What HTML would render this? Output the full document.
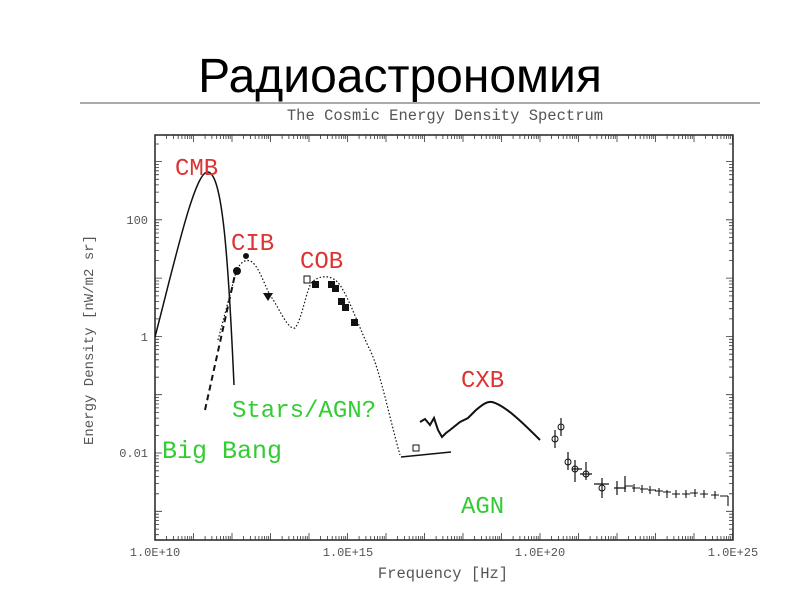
<!DOCTYPE html>
<html><head><meta charset="utf-8"><style>
body{margin:0;background:#fff;width:800px;height:600px;overflow:hidden}
</style></head><body>
<svg width="800" height="600" xmlns="http://www.w3.org/2000/svg">
<defs>
<clipPath id="box"><rect x="150" y="135" width="590" height="405"/></clipPath>
<path id="xm" d="M11.6,0v-4M18.4,0v-4M23.2,0v-4M26.9,0v-4M30,0v-4M32.5,0v-4M34.8,0v-4M36.7,0v-4M38.5,0v-7" stroke="#333" stroke-width="0.8"/>
<path id="xt" d="M11.6,0v4M18.4,0v4M23.2,0v4M26.9,0v4M30,0v4M32.5,0v4M34.8,0v4M36.7,0v4M38.5,0v7" stroke="#333" stroke-width="0.8"/>
<path id="ym" d="M0,-17.5h4M0,-27.7h4M0,-34.9h4M0,-40.5h4M0,-45.1h4M0,-49h4M0,-52.4h4M0,-55.4h4M0,-58.3h7" stroke="#333" stroke-width="0.8"/>
<path id="yr" d="M0,-17.5h-4M0,-27.7h-4M0,-34.9h-4M0,-40.5h-4M0,-45.1h-4M0,-49h-4M0,-52.4h-4M0,-55.4h-4M0,-58.3h-7" stroke="#333" stroke-width="0.8"/>
</defs>
<text x="400" y="92" text-anchor="middle" font-family="Liberation Sans, sans-serif" font-size="48" fill="#000">Радиоастрономия</text>
<line x1="80" y1="103" x2="760" y2="103" stroke="#aaa" stroke-width="2"/>
<text x="445" y="120" text-anchor="middle" font-family="Liberation Mono, monospace" font-size="15.5" fill="#555">The Cosmic Energy Density Spectrum</text>
<rect x="155" y="135" width="578" height="405" fill="none" stroke="#222" stroke-width="1.5"/>
<g clip-path="url(#box)">
<use href="#xm" x="155" y="540"/><use href="#xm" x="193.5" y="540"/><use href="#xm" x="232" y="540"/><use href="#xm" x="270.5" y="540"/><use href="#xm" x="309" y="540"/><use href="#xm" x="347.5" y="540"/><use href="#xm" x="386" y="540"/><use href="#xm" x="424.5" y="540"/><use href="#xm" x="463" y="540"/><use href="#xm" x="501.5" y="540"/><use href="#xm" x="540" y="540"/><use href="#xm" x="578.5" y="540"/><use href="#xm" x="617" y="540"/><use href="#xm" x="655.5" y="540"/><use href="#xm" x="694" y="540"/>
<use href="#xt" x="155" y="135"/><use href="#xt" x="193.5" y="135"/><use href="#xt" x="232" y="135"/><use href="#xt" x="270.5" y="135"/><use href="#xt" x="309" y="135"/><use href="#xt" x="347.5" y="135"/><use href="#xt" x="386" y="135"/><use href="#xt" x="424.5" y="135"/><use href="#xt" x="463" y="135"/><use href="#xt" x="501.5" y="135"/><use href="#xt" x="540" y="135"/><use href="#xt" x="578.5" y="135"/><use href="#xt" x="617" y="135"/><use href="#xt" x="655.5" y="135"/><use href="#xt" x="694" y="135"/>
<use href="#ym" x="155" y="569.6"/><use href="#ym" x="155" y="511.3"/><use href="#ym" x="155" y="453"/><use href="#ym" x="155" y="394.7"/><use href="#ym" x="155" y="336.4"/><use href="#ym" x="155" y="278.1"/><use href="#ym" x="155" y="219.8"/><use href="#ym" x="155" y="161.5"/>
<use href="#yr" x="733" y="569.6"/><use href="#yr" x="733" y="511.3"/><use href="#yr" x="733" y="453"/><use href="#yr" x="733" y="394.7"/><use href="#yr" x="733" y="336.4"/><use href="#yr" x="733" y="278.1"/><use href="#yr" x="733" y="219.8"/><use href="#yr" x="733" y="161.5"/>
</g>
<g font-family="Liberation Mono, monospace" font-size="12" fill="#555">
<text x="148" y="224" text-anchor="end">100</text>
<text x="148" y="341" text-anchor="end">1</text>
<text x="148" y="457" text-anchor="end">0.01</text>
<text x="155" y="556" text-anchor="middle">1.0E+10</text>
<text x="348" y="556" text-anchor="middle">1.0E+15</text>
<text x="540" y="556" text-anchor="middle">1.0E+20</text>
<text x="733" y="556" text-anchor="middle">1.0E+25</text>
<text x="443" y="578" text-anchor="middle" font-size="15.5">Frequency [Hz]</text>
<text transform="translate(93,340) rotate(-90)" text-anchor="middle" font-size="14">Energy Density [nW/m2 sr]</text>
</g>
<g fill="none" stroke="#111">
<path d="M155,337 C175,260 195,170 208,172 C222,174 228,250 234,385" stroke-width="1.5"/>
<path d="M205,410 L236,270" stroke-width="2" stroke-dasharray="6,4"/>
<path d="M218,340 L236,272 C240,262 246,258 252,262 C260,268 266,290 272,298 C280,310 288,330 295,328 C302,320 306,290 312,282 C320,275 332,274 340,285 C350,300 360,330 370,350 C380,370 390,420 400,455" stroke-width="1.2" stroke-dasharray="1.5,2"/>
<path d="M401,457 L451,452" stroke-width="1.5"/>
<path d="M420,422 L425,419 L430,425 L434,418 L438,430 L442,437 L446,433 L450,430 L455,426 L460,422 L468,418 L476,410 C482,405 487,401 492,402 C505,405 525,425 540,440" stroke-width="2"/>
<path d="M555,430v18M561,418v18M568,452v18M575,460v22M586,462v18M602,478v20M617,481v14M625,476v16M594,484h15M572,469h10M580,474h12M614,488h12" stroke-width="1.2"/>
<path d="M625,486h8M632,488h8M640,489h8M648,490h8M655,491h8M663,492h8M672,494h8M682,494h8M690,493h8M700,494h8M711,495h8M720,496h8M728,496v10M634,484v8M642,485v8M650,486v8M659,488v8M667,490v8M676,490v8M686,490v8M695,489v8M704,490v8M715,491v8" stroke-width="1.1"/>
<circle cx="555" cy="439" r="3"/><circle cx="561" cy="427" r="3"/><circle cx="568" cy="462" r="3"/><circle cx="575" cy="469" r="3"/><circle cx="586" cy="474" r="3"/><circle cx="602" cy="488" r="3"/>
<rect x="304" y="276" width="6" height="7" stroke-width="1"/>
<rect x="413" y="445" width="6" height="6" stroke-width="1"/>
</g>
<g fill="#111">
<circle cx="237" cy="271" r="4"/><circle cx="246" cy="256" r="3"/>
<path d="M263,293 L273,293 L268,301 Z"/>
<rect x="312" y="281" width="7" height="7"/><rect x="328" y="281" width="7" height="7"/><rect x="332" y="285" width="7" height="7"/><rect x="338" y="298" width="7" height="7"/><rect x="342" y="304" width="7" height="7"/><rect x="351" y="319" width="7" height="7"/>
</g>
<g font-family="Liberation Mono, monospace" font-size="24">
<text x="175" y="175" fill="#d33">CMB</text>
<text x="231" y="250" fill="#d33">CIB</text>
<text x="300" y="268" fill="#d33">COB</text>
<text x="461" y="387" fill="#d33">CXB</text>
<text x="232" y="417" fill="#3c3">Stars/AGN?</text>
<text x="162" y="458" fill="#3c3" font-size="25">Big Bang</text>
<text x="461" y="513" fill="#3c3">AGN</text>
</g>
</svg>
</body></html>
